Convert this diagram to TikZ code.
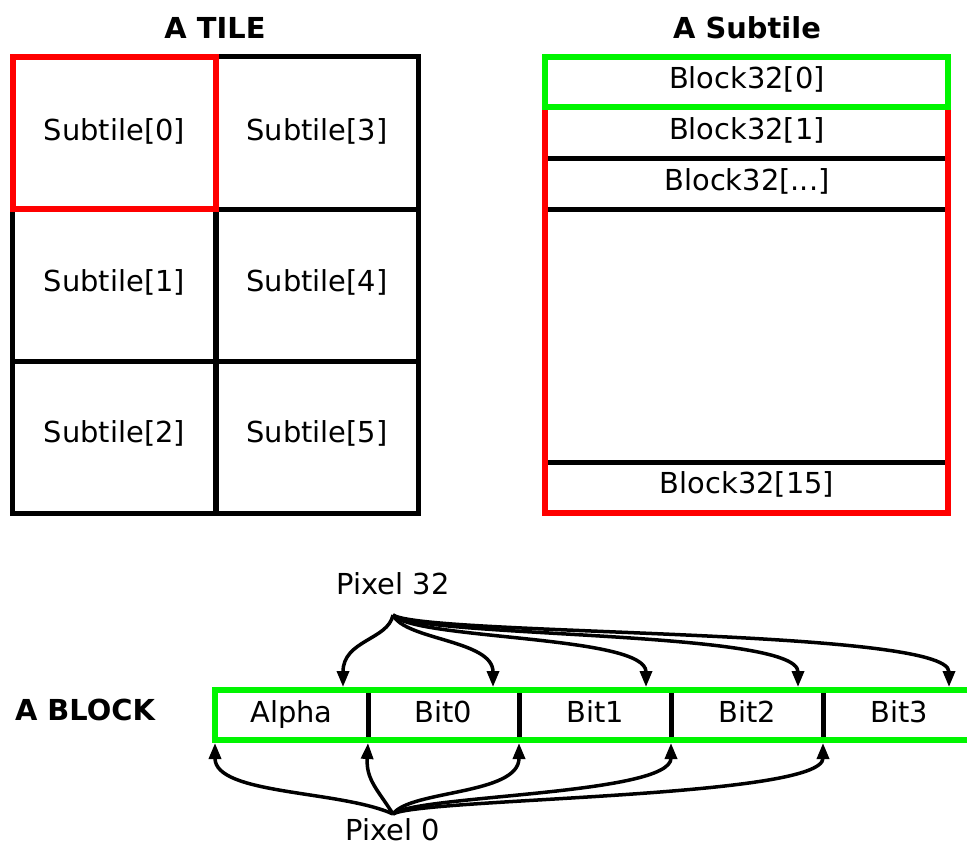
\documentclass[tikz,border=0pt]{standalone}
\usepackage{fontspec}
\setmainfont{DejaVu Sans}
\usetikzlibrary{arrows.meta}
\definecolor{hired}{RGB}{255,0,0}
\definecolor{higreen}{RGB}{0,245,0}
\tikzset{
  cell/.style={draw=black, line width=5bp, minimum width=203bp, minimum height=152bp, inner sep=0pt},
  lbl/.style={inner sep=0pt, text height=22bp, text depth=4bp},
  title/.style={inner sep=0pt, text height=22bp, text depth=4bp, font=\fontsize{29}{34}\selectfont\bfseries},
  sep/.style={draw=black, line width=5bp},
  redline/.style={draw=hired, line width=6bp},
  greenline/.style={draw=higreen, line width=6bp},
  arr/.style={draw=black, line width=3.5bp, -{Triangle[length=16bp,width=12bp]}}
}
\begin{document}
\begin{tikzpicture}[x=1bp,y=-1bp,font=\fontsize{29}{34}\selectfont]
\useasboundingbox (0,0) rectangle (967,845);
% ---------- A TILE ----------
\node[title] (ttile) at (215,29) {A TILE};
\node[cell] (t0) at (114.5,133) {};
\node[cell] (t3) at (317,133) {};
\node[cell] (t1) at (114.5,285) {};
\node[cell] (t4) at (317,285) {};
\node[cell] (t2) at (114.5,437) {};
\node[cell] (t5) at (317,437) {};
\node[lbl] (l0) at (114.5,131) {Subtile[0]};
\node[lbl] (l3) at (317,131) {Subtile[3]};
\node[lbl] (l1) at (114.5,282) {Subtile[1]};
\node[lbl] (l4) at (317,282) {Subtile[4]};
\node[lbl] (l2) at (114.5,433) {Subtile[2]};
\node[lbl] (l5) at (317,433) {Subtile[5]};
\draw[redline] (13,57) rectangle (216,209);
% ---------- A Subtile ----------
\node[title] (tsub) at (747,29) {A Subtile};
\draw[sep] (545,158) -- (948,158);
\draw[sep] (545,209) -- (948,209);
\draw[sep] (545,462) -- (948,462);
\draw[redline] (545,57) rectangle (948,513);
\draw[greenline] (545,57) rectangle (948,107);
\node[lbl] (s0) at (747,79) {Block32[0]};
\node[lbl] (s1) at (747,130) {Block32[1]};
\node[lbl] (s2) at (747,181) {Block32[...]};
\node[lbl] (s15) at (747,484) {Block32[15]};
% ---------- A BLOCK ----------
\node[title] (tblock) at (85,711) {A BLOCK};
\draw[sep] (368,690) -- (368,740);
\draw[sep] (519,690) -- (519,740);
\draw[sep] (671,690) -- (671,740);
\draw[sep] (823,690) -- (823,740);
\draw[greenline] (970,690) -- (215,690) -- (215,740) -- (970,740);
\node[lbl] (alpha) at (291.5,713) {Alpha};
\node[lbl] (bit0) at (443.5,713) {Bit0};
\node[lbl] (bit1) at (595,713) {Bit1};
\node[lbl] (bit2) at (747,713) {Bit2};
\node[lbl] (bit3) at (899,713) {Bit3};
% ---------- Pixels ----------
\node[lbl] (p32) at (393,585) {Pixel 32};
\node[lbl, text depth=0bp] (p0) at (393,829) {Pixel 0};
\coordinate (p32s) at (393,615);
\coordinate (p0s) at (393,814);
\coordinate (ta) at (343,687);
\coordinate (tb0) at (493,687);
\coordinate (tb1) at (646,687);
\coordinate (tb2) at (798,687);
\coordinate (tb3) at (949,687);
\coordinate (ba) at (215,743);
\coordinate (bb0) at (368,743);
\coordinate (bb1) at (519,743);
\coordinate (bb2) at (671,743);
\coordinate (bb3) at (823,743);
\draw[arr] (p32s) .. controls (388,640) and (343,640) .. (ta);
\draw[arr] (p32s) .. controls (405,640) and (493,640) .. (tb0);
\draw[arr] (p32s) .. controls (415,640) and (646,635) .. (tb1);
\draw[arr] (p32s) .. controls (420,638) and (798,630) .. (tb2);
\draw[arr] (p32s) .. controls (425,636) and (949,628) .. (tb3);
\draw[arr] (p0s) .. controls (340,790) and (215,795) .. (ba);
\draw[arr] (p0s) .. controls (378,790) and (366,780) .. (bb0);
\draw[arr] (p0s) .. controls (410,790) and (519,795) .. (bb1);
\draw[arr] (p0s) .. controls (415,795) and (671,795) .. (bb2);
\draw[arr] (p0s) .. controls (420,798) and (823,798) .. (bb3);
\end{tikzpicture}
\end{document}
